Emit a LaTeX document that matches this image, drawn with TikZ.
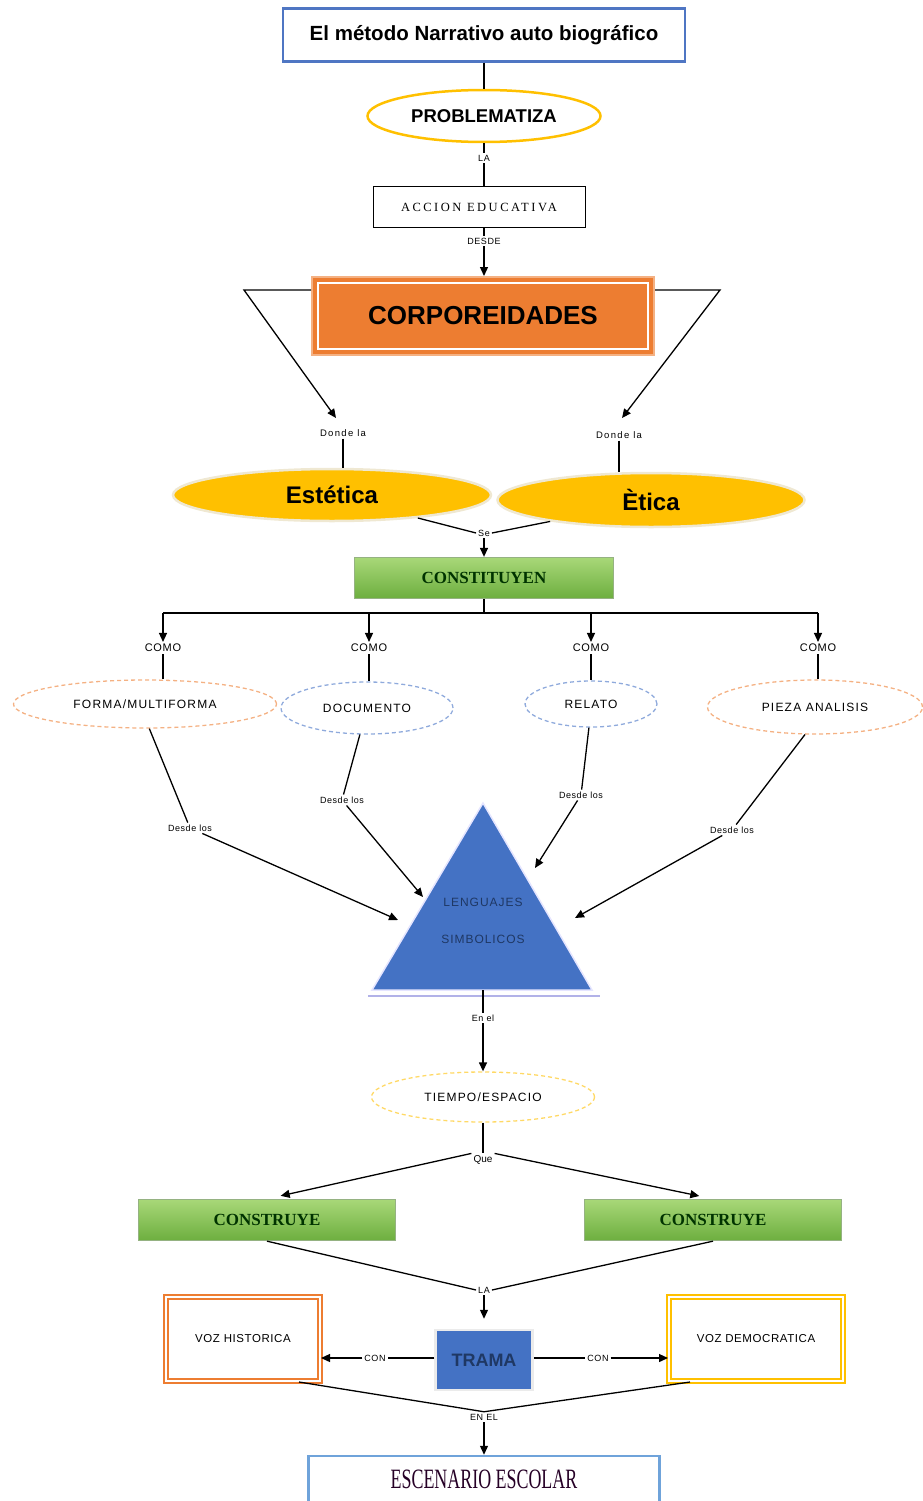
\documentclass[tikz,border=0pt]{standalone}
\usepackage{fontspec}
\setmainfont{Liberation Serif}
\setsansfont{Liberation Sans}
\usetikzlibrary{shapes.geometric,arrows.meta,calc}

\definecolor{blueA}{HTML}{4F76C3}
\definecolor{gold}{HTML}{FFC000}
\definecolor{orng}{HTML}{ED7D31}
\definecolor{orngL}{HTML}{F4B183}
\definecolor{blueD}{HTML}{8FAADC}
\definecolor{yelD}{HTML}{FFD966}
\definecolor{grnT}{HTML}{A8D878}
\definecolor{grnB}{HTML}{6DAE3F}
\definecolor{grnD}{HTML}{4E7F2E}
\definecolor{blueT}{HTML}{4472C4}
\definecolor{navyT}{HTML}{1F3864}
\definecolor{blueE}{HTML}{6FA3DA}
\definecolor{cream}{HTML}{EFE8D2}

\tikzset{
  tag/.style={font=\sffamily\fontsize{9}{9}\selectfont\addfontfeature{LetterSpace=6}, inner sep=1.5pt},
  dashell/.style={ellipse, draw, dashed, dash pattern=on 4pt off 3pt, line width=1.3pt,
    inner sep=0pt, font=\sffamily\fontsize{12}{12}\selectfont\addfontfeature{LetterSpace=10}},
  greenbox/.style={top color=grnT, bottom color=grnB, draw=grnD!60, minimum height=41,
    font=\rmfamily\bfseries\fontsize{17}{17}\selectfont, text=black!80!green},
  goldell/.style={ellipse, fill=gold, draw=cream, line width=2.5pt,
    font=\sffamily\bfseries\fontsize{24}{24}\selectfont},
  vozbox/.style={line width=2pt, double=white, double distance=2.5pt, minimum height=84,
    font=\sffamily\fontsize{11.5}{11.5}\selectfont\addfontfeature{LetterSpace=5}}
}

\begin{document}
\begin{tikzpicture}[x=1pt, y=-1pt, line width=1.3pt, >={Triangle[length=9pt,width=8pt]}]
\useasboundingbox (0,0) rectangle (923,1501);

\node[draw=blueA, line width=2.5pt, minimum width=402, minimum height=53,
  font=\sffamily\bfseries\fontsize{20.5}{20.5}\selectfont] (metodo) at (484,35) {El método Narrativo auto biográfico};
\node[ellipse, draw=gold, line width=2.5pt, minimum width=233, minimum height=52,
  font=\sffamily\bfseries\fontsize{18.5}{18.5}\selectfont] (probl) at (484,116) {PROBLEMATIZA};
\node[tag] (la1) at (484,158) {LA};
\node[draw, line width=0.8pt, minimum width=212, minimum height=41,
  font=\rmfamily\fontsize{12.5}{12.5}\selectfont\addfontfeature{LetterSpace=20}] (accion) at (479,207) {ACCION EDUCATIVA};
\node[tag] (desde) at (484,241) {DESDE};
\node[fill=orng, draw=orngL, line width=2pt, minimum width=342, minimum height=78,
  font=\sffamily\bfseries\fontsize{26}{26}\selectfont] (corp) at (483,316) {CORPOREIDADES};
\draw[white, line width=1.5pt] ([shift={(7,7)}]corp.north west) rectangle ([shift={(-7,-7)}]corp.south east);

\draw (metodo) -- (probl);
\draw (probl) -- (la1) -- (la1 |- accion.north);
\draw (desde |- accion.south) -- (desde);
\draw[->] (desde) -- (desde |- corp.north);

\coordinate (cl) at (244,290);
\coordinate (cr) at (720,290);
\coordinate (tipA) at (336,418);
\coordinate (tipB) at (622,418);
\node[tag, font=\sffamily\fontsize{9.5}{9.5}\selectfont\addfontfeature{LetterSpace=14}] (dondeA) at (343,433) {Donde la};
\node[tag, font=\sffamily\fontsize{9.5}{9.5}\selectfont\addfontfeature{LetterSpace=14}] (dondeB) at (619,435) {Donde la};
\draw[->] (corp.west |- cl) -- (cl) -- (tipA);
\draw[->] (corp.east |- cr) -- (cr) -- (tipB);

\node[goldell, minimum width=318, minimum height=52] (estet) at (332,495) {Estética};
\node[goldell, minimum width=307, minimum height=54] (etica) at (651,500) {Ètica};
\draw (dondeA) -- (dondeA |- estet.north);
\draw (dondeB) -- (dondeB |- etica.north);

\node[tag] (se) at (484,533) {Se};
\node[greenbox, minimum width=259] (constit) at (484,578) {CONSTITUYEN};
\draw (estet.-15) -- (se.west);
\draw (etica.-168) -- (se.east);
\draw[->] (se) -- (constit);

\coordinate (bus) at (484,613);
\foreach \n/\x in {a/163,b/369,c/591,d/818}
  \node[tag, font=\sffamily\fontsize{11}{11}\selectfont\addfontfeature{LetterSpace=6}] (como\n) at (\x,648) {COMO};
\draw (constit) -- (bus);
\draw (comoa |- bus) -- (comod |- bus);
\foreach \n in {a,b,c,d}
  \draw[->] (como\n |- bus) -- (como\n);

\node[dashell, draw=orngL, minimum width=263, minimum height=48] (forma) at (145,704) {FORMA/MULTIFORMA};
\node[dashell, draw=blueD, minimum width=172, minimum height=52] (docu) at (367,708) {DOCUMENTO};
\node[dashell, draw=blueD, minimum width=132, minimum height=46] (relato) at (591,704) {RELATO};
\node[dashell, draw=orngL, minimum width=215, minimum height=54] (pieza) at (815,707) {PIEZA ANALISIS};
\draw (comoa) -- (comoa |- forma.north);
\draw (comob) -- (comob |- docu.north);
\draw (comoc) -- (comoc |- relato.north);
\draw (comod) -- (comod |- pieza.north);

\node[tag] (desA) at (190,828) {Desde los};
\node[tag] (desB) at (342,800) {Desde los};
\node[tag] (desC) at (581,795) {Desde los};
\node[tag] (desD) at (732,830) {Desde los};
\coordinate (inA) at (398,920);
\coordinate (inB) at (423,897);
\coordinate (inC) at (535,868);
\coordinate (inD) at (575,918);

\coordinate (tapex) at (483,803);
\coordinate (tleft) at (372,990);
\coordinate (tright) at (592,990);
\coordinate (tbase) at (483,990);
\draw[black!30!blue!30!white, line width=2.5pt] (368,996) -- (600,996);
\filldraw[fill=blueT, draw=blue!10!white, line width=1.5pt] (tapex) -- (tright) -- (tleft) -- cycle;
\node[align=center, text=navyT, font=\sffamily\fontsize{12}{37}\selectfont\addfontfeature{LetterSpace=8}] (leng) at (483,921) {LENGUAJES\\SIMBOLICOS};

\draw (forma.-80) -- (desA);
\draw (docu.-105) -- (desB);
\draw (relato.-95) -- (desC);
\draw (pieza.-110) -- (desD);
\draw[->] (desA) -- (inA);
\draw[->] (desB) -- (inB);
\draw[->] (desC) -- (inC);
\draw[->] (desD) -- (inD);

\node[tag] (enel) at (483,1018) {En el};
\node[dashell, draw=yelD, minimum width=223, minimum height=50] (tiempo) at (483,1097) {TIEMPO/ESPACIO};
\draw (tbase) -- (enel);
\draw[->] (enel) -- (tiempo);

\node[tag, font=\sffamily\fontsize{10}{10}\selectfont] (que) at (483,1160) {Que};
\node[greenbox, minimum width=257] (consL) at (267,1220) {CONSTRUYE};
\node[greenbox, minimum width=257] (consR) at (713,1220) {CONSTRUYE};
\draw (tiempo) -- (que);
\draw[->, shorten >=14pt] (que.north west) -- (consL.north);
\draw[->, shorten >=14pt] (que.north east) -- (consR.north);

\node[tag] (la2) at (484,1290) {LA};
\node[fill=blueT, draw=black!8, line width=2.5pt, minimum width=97, minimum height=60,
  font=\sffamily\bfseries\fontsize{18}{18}\selectfont, text=navyT] (trama) at (484,1360) {TRAMA};
\draw (consL.south) -- (la2.west);
\draw (consR.south) -- (la2.east);
\draw[->, shorten >=10pt] (la2) -- (trama);

\node[vozbox, draw=orng, minimum width=154] (vozH) at (243,1339) {VOZ HISTORICA};
\node[vozbox, draw=gold, minimum width=174] (vozD) at (756,1339) {VOZ DEMOCRATICA};
\node[tag] (conL) at (375,1358) {CON};
\node[tag] (conR) at (598,1358) {CON};
\draw (trama.west |- conL) -- (conL);
\draw[->] (conL) -- (vozH.east |- conL);
\draw (trama.east |- conR) -- (conR);
\draw[->] (conR) -- (vozD.west |- conR);

\node[tag] (enl) at (484,1417) {EN EL};
\node[draw=blueE, line width=2.5pt, minimum width=351, minimum height=46,
  font=\rmfamily\fontsize{28}{28}\selectfont\addfontfeature{FakeStretch=0.64}, text=black!70!violet] (esc) at (484,1479) {ESCENARIO ESCOLAR};
\draw ([xshift=-22pt]vozH.south east) -- (enl.north) -- ([xshift=22pt]vozD.south west);
\draw[->] (enl) -- (esc);
\end{tikzpicture}
\end{document}
